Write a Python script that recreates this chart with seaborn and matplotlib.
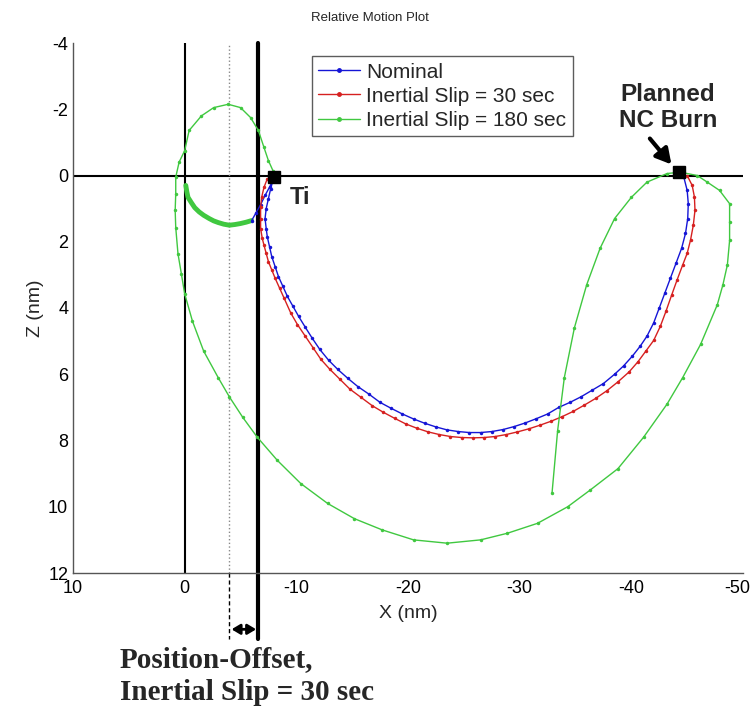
import pandas as pd
import matplotlib
matplotlib.use("Agg")
import matplotlib.pyplot as plt
import matplotlib.transforms as mtransforms
from matplotlib.lines import Line2D
import seaborn as sns

# Nominal trajectory (X, Z in nm)
nominal_x = [-6.0, -6.4, -6.8, -7.2, -7.6, -7.9, -7.7, -7.5, -7.3, -7.2, -7.3, -7.4, -7.6,
             -7.8, -8.1, -8.4, -8.8, -9.2, -9.7, -10.2, -10.8, -11.4, -12.1, -12.9, -13.7,
             -14.6, -15.5, -16.5, -17.5, -18.5, -19.5, -20.5, -21.5, -22.5, -23.5, -24.5,
             -25.5, -26.5, -27.5, -28.5, -29.5, -30.5, -31.5, -32.5, -33.5, -34.5, -35.5,
             -36.5, -37.5, -38.5, -39.3, -40.1, -40.8, -41.4, -42.0, -42.5, -43.0, -43.5,
             -44.0, -44.5, -44.85, -45.05, -45.1, -45.0, -44.7]
nominal_z = [1.36, 1.12, 0.88, 0.6, 0.35, 0.15, 0.4, 0.7, 1.0, 1.3, 1.6, 1.85, 2.15,
             2.45, 2.75, 3.05, 3.35, 3.65, 3.95, 4.25, 4.58, 4.9, 5.25, 5.58, 5.85,
             6.12, 6.37, 6.6, 6.85, 7.03, 7.2, 7.35, 7.48, 7.59, 7.68, 7.73,
             7.76, 7.76, 7.73, 7.67, 7.58, 7.47, 7.34, 7.2, 7.0, 6.85, 6.68,
             6.48, 6.28, 6.0, 5.75, 5.45, 5.15, 4.85, 4.45, 4.0, 3.55, 3.1,
             2.65, 2.2, 1.75, 1.3, 0.85, 0.45, 0.05]

# Inertial slip = 30 sec
slip30_x = [-7.4, -7.1, -6.9, -6.8, -6.8, -6.8, -6.95, -7.1, -7.3, -7.5, -7.8, -8.1, -8.5,
            -8.9, -9.5, -10.1, -10.8, -11.5, -12.2, -13.0, -13.9, -14.8, -15.8, -16.8,
            -17.8, -18.8, -19.8, -20.8, -21.8, -22.8, -23.8, -24.8, -25.8, -26.8, -27.8,
            -28.8, -29.8, -30.8, -31.8, -32.8, -33.8, -34.8, -35.8, -36.8, -37.8, -38.8,
            -39.8, -40.6, -41.3, -42.0, -42.6, -43.1, -43.6, -44.1, -44.6, -45.0, -45.3,
            -45.55, -45.7, -45.65, -45.45, -45.0]
slip30_z = [0.1, 0.36, 0.65, 0.95, 1.3, 1.6, 1.9, 2.1, 2.35, 2.6, 2.85, 3.1, 3.4,
            3.7, 4.15, 4.5, 4.85, 5.2, 5.55, 5.85, 6.15, 6.45, 6.7, 6.95,
            7.15, 7.33, 7.5, 7.63, 7.74, 7.82, 7.88, 7.91, 7.92, 7.91, 7.88,
            7.82, 7.74, 7.65, 7.54, 7.42, 7.28, 7.12, 6.93, 6.73, 6.5, 6.23,
            5.93, 5.62, 5.3, 4.98, 4.55, 4.1, 3.62, 3.15, 2.7, 2.35, 1.95,
            1.5, 1.05, 0.65, 0.3, 0.0]

# Inertial slip = 180 sec
slip180_x = [-7.9, -7.5, -7.1, -6.6, -5.9, -5.0, -3.9, -2.6, -1.5, -0.4, 0.0, 0.5, 0.8,
             0.8, 0.85, 0.8, 0.6, 0.3, 0.0, -0.7, -1.7, -3.0, -4.0, -5.2, -6.5, -8.3,
             -10.4, -12.8, -15.2, -17.7, -20.5, -23.5, -26.5, -28.9, -31.6, -34.3, -36.3,
             -38.8, -41.1, -43.2, -44.6, -46.2, -47.7, -48.2, -48.6, -48.8, -48.8, -48.8,
             -47.9, -46.8, -45.9, -44.4, -43.2, -41.4, -40.0, -38.5, -37.2, -36.0, -34.9,
             -34.0, -33.4, -32.9]
slip180_z = [-0.15, -0.45, -0.85, -1.36, -1.75, -2.05, -2.15, -2.05, -1.8, -1.36, -0.75, -0.4, 0.05,
             0.55, 1.05, 1.57, 2.36, 2.96, 3.57, 4.4, 5.3, 6.1, 6.68, 7.3, 7.9, 8.6,
             9.3, 9.9, 10.36, 10.7, 11.0, 11.1, 11.0, 10.8, 10.5, 10.0, 9.5,
             8.85, 7.9, 6.9, 6.1, 5.1, 3.9, 3.3, 2.7, 1.96, 1.4, 0.85,
             0.45, 0.2, 0.0, -0.1, -0.06, 0.2, 0.66, 1.3, 2.2, 3.3, 4.6,
             6.1, 7.7, 9.58]

# dense arc before Ti (drawn thick in the 180 sec colour)
arc_x = [-0.1, -0.2, -0.3, -0.6, -0.9, -1.3, -1.7, -2.2, -2.6, -3.0, -3.5, -4.0, -4.5, -5.0, -5.5, -6.0]
arc_z = [0.3, 0.5, 0.66, 0.82, 0.97, 1.1, 1.2, 1.3, 1.37, 1.42, 1.47, 1.5, 1.48, 1.45, 1.41, 1.36]

labels = ["Nominal", "Inertial Slip = 30 sec", "Inertial Slip = 180 sec"]
colors = ["#1515d6", "#d62020", "#40c840"]

ti_point = (-8.0, 0.05)
nc_point = (-44.3, -0.1)
offset_x = -6.6      # position offset for 30 sec slip
midline_x = -4.0

df = pd.concat([
    pd.DataFrame({"x": nominal_x, "z": nominal_z, "series": labels[0]}),
    pd.DataFrame({"x": slip30_x, "z": slip30_z, "series": labels[1]}),
    pd.DataFrame({"x": slip180_x, "z": slip180_z, "series": labels[2]}),
], ignore_index=True)
arc = pd.DataFrame({"x": arc_x, "z": arc_z})

sns.set_style("white")
plt.rcParams["font.family"] = ["Liberation Sans", "DejaVu Sans"]
plt.rcParams["axes.unicode_minus"] = False

fig = plt.figure(figsize=(7.54, 7.07), dpi=100)
ax = fig.add_axes([73 / 754, 1 - 573 / 707, 670 / 754, 530 / 707])

# reference lines
ax.axhline(0, color="black", lw=1.5, zorder=1)
ax.axvline(0, color="black", lw=1.5, zorder=1)
ax.axvline(midline_x, color="#888888", lw=1, ls=":", zorder=1)
ax.plot([offset_x, offset_x], [-4, 14.0], color="black", lw=3, clip_on=False, zorder=1)
ax.plot([midline_x, midline_x], [12, 14.0], color="black", lw=1, ls=(0, (3, 2)), clip_on=False)

sns.lineplot(data=arc, x="x", y="z", sort=False, estimator=None, color=colors[2],
             lw=3.5, legend=False, ax=ax, zorder=2)

sns.lineplot(data=df, x="x", y="z", hue="series", hue_order=labels, palette=colors,
             units="series", estimator=None, sort=False, marker=".", markersize=5,
             markeredgewidth=0, lw=1, legend=False, ax=ax, zorder=3)

ax.plot(*ti_point, marker="s", color="black", markersize=9, zorder=5)
ax.plot(*nc_point, marker="s", color="black", markersize=9, zorder=5)

ax.set_xlim(10, -50)
ax.set_ylim(12, -4)
ax.set_xticks([10, 0, -10, -20, -30, -40, -50])
ax.set_yticks([-4, -2, 0, 2, 4, 6, 8, 10, 12])
ax.tick_params(direction="in", length=6, width=1, colors="#444444", labelcolor="black",
               labelsize=13)
ax.tick_params(axis="x", pad=5)
for side in ["top", "right"]:
    ax.spines[side].set_visible(False)
for side in ["left", "bottom"]:
    ax.spines[side].set_color("#555555")
    ax.spines[side].set_linewidth(1)
ax.set_xlabel("X (nm)", fontsize=14, labelpad=6)
ax.set_ylabel("Z (nm)", fontsize=14, labelpad=3)

# keep the last x tick label inside the picture
fig.canvas.draw()
last = ax.get_xticklabels()[-1]
last.set_transform(last.get_transform() + mtransforms.ScaledTranslation(-6 / 100, 0, fig.dpi_scale_trans))

handles = [Line2D([0], [0], color=c, lw=1, marker=".", markersize=5) for c in colors]
leg = ax.legend(handles, labels, loc="upper left", bbox_to_anchor=(0.357, 0.975),
                fontsize=15, frameon=True, fancybox=False, handlelength=2.0,
                handletextpad=0.3, labelspacing=0.25, borderpad=0.3, borderaxespad=0)
leg.get_frame().set_edgecolor("#333333")
leg.get_frame().set_linewidth(1)

fig.text(370 / 754, 1 - 18 / 707, "Relative Motion Plot", ha="center", va="center", fontsize=9.5)

ax.text(-9.4, 0.65, "Ti", fontsize=17, fontweight="bold", ha="left", va="center")
ax.text(-43.3, -2.05, "Planned\nNC Burn", fontsize=17.5, fontweight="bold", ha="center",
        va="center", linespacing=1.2)
ax.annotate("", xy=(-43.75, -0.27), xytext=(-41.5, -1.18),
            arrowprops=dict(arrowstyle="-|>,head_length=0.9,head_width=0.5",
                            color="black", lw=3))

ax.annotate("", xy=(offset_x - 0.05, 13.7), xytext=(midline_x + 0.05, 13.7),
            annotation_clip=False,
            arrowprops=dict(arrowstyle="<|-|>,head_length=0.5,head_width=0.3",
                            color="black", lw=2))
serif = ["Liberation Serif", "DejaVu Serif"]
fig.text(120 / 754, 1 - 660 / 707, "Position-Offset,", ha="left", va="center",
         fontsize=21, fontweight="bold", family=serif)
fig.text(120 / 754, 1 - 692 / 707, "Inertial Slip = 30 sec", ha="left", va="center",
         fontsize=21, fontweight="bold", family=serif)

fig.savefig("out.png", dpi=100)
